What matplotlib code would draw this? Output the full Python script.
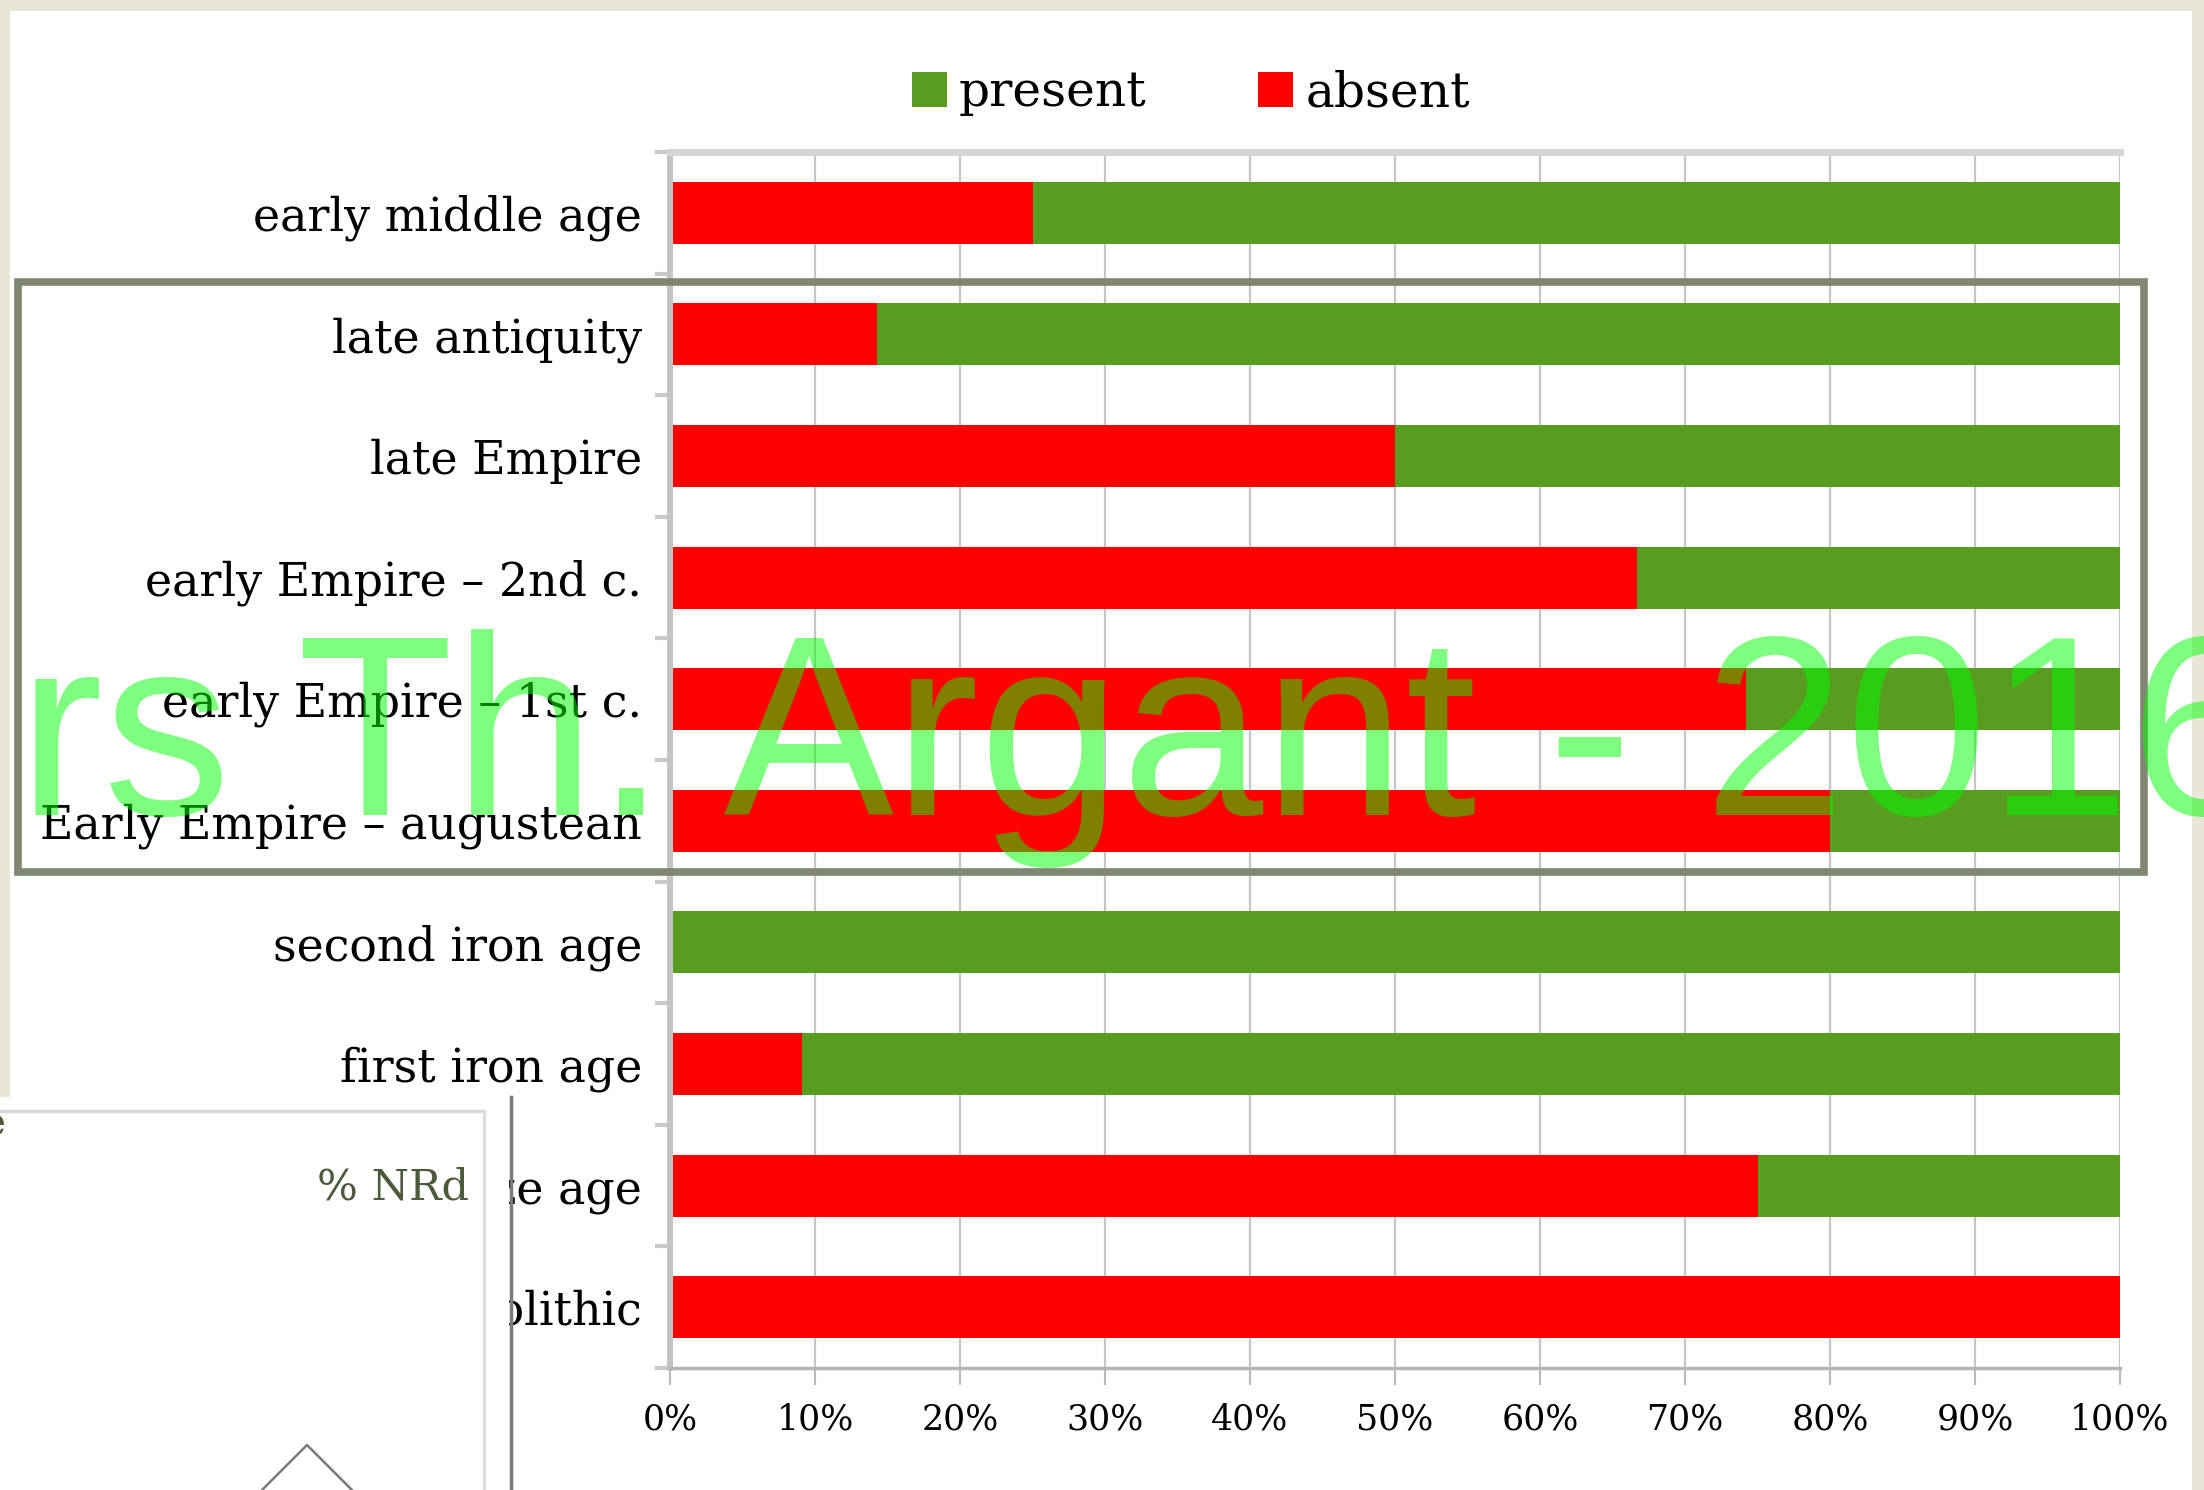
import matplotlib
matplotlib.use('Agg')
import matplotlib.pyplot as plt
from matplotlib.patches import Rectangle, Patch
from matplotlib.lines import Line2D
import numpy as np

# ---- data ----
categories = ["early middle age", "late antiquity", "late Empire",
              "early Empire – 2nd c.", "early Empire – 1st c.",
              "Early Empire – augustean", "second iron age",
              "first iron age", "bronze age", "neolithic"]
absent = [0.25, 0.143, 0.50, 0.667, 0.742, 0.80, 0.0, 0.091, 0.75, 1.0]
present = [0.75, 0.857, 0.50, 0.333, 0.258, 0.20, 1.0, 0.909, 0.25, 0.0]
xtick_values = [0.0, 0.1, 0.2, 0.3, 0.4, 0.5, 0.6, 0.7, 0.8, 0.9, 1.0]
xtick_labels = ["0%", "10%", "20%", "30%", "40%", "50%", "60%", "70%", "80%", "90%", "100%"]
legend_labels = ["present", "absent"]
watermark = "rs Th. Argant - 2016"
panel_label = "% NRd"

RED = '#ff0000'
GREEN = '#589d1f'
SERIF = 'DejaVu Serif'

W, H = 2204, 1490
def fx(x): return x / W
def fy(y): return 1 - y / H

fig = plt.figure(figsize=(W / 100, H / 100), dpi=100)
fig.patch.set_facecolor('#e8e5d9')

# white card
fig.patches.append(Rectangle((fx(10), 0), (2192 - 10) / W, (H - 11) / H,
                             transform=fig.transFigure, facecolor='white',
                             edgecolor='none', zorder=-2))

ax = fig.add_axes([fx(670), fy(1368), (2120 - 670) / W, (1368 - 152) / H])
ax.set_facecolor('white')
n = len(categories)
y = np.arange(n)
ax.barh(y, absent, height=0.51, color=RED, zorder=2)
ax.barh(y, present, left=absent, height=0.51, color=GREEN, zorder=2)
ax.set_xlim(0, 1)
ax.set_ylim(n - 0.5, -0.5)

ax.set_axisbelow(True)
ax.xaxis.grid(True, color='#c6c6c6', lw=1.6)

ax.spines['right'].set_visible(False)
ax.spines['left'].set_color('#c4c4c4')
ax.spines['left'].set_linewidth(4.3)
ax.spines['top'].set_color('#d6d6d6')
ax.spines['top'].set_linewidth(5)
ax.spines['bottom'].set_color('#b5b5b5')
ax.spines['bottom'].set_linewidth(2.5)

ax.set_yticks(y)
ax.set_yticklabels(categories, fontsize=33, family=SERIF)
ax.set_yticks(np.arange(-0.5, n, 1), minor=True)
ax.tick_params(axis='y', which='major', length=0, pad=20)
ax.tick_params(axis='y', which='minor', length=11, width=3, color='#c8c8c8', direction='out')

ax.set_xticks(xtick_values)
ax.set_xticklabels(xtick_labels, fontsize=25, family=SERIF)
ax.tick_params(axis='x', which='major', length=12, width=1.5, color='#bbbbbb', pad=13)

# legend
handles = [Patch(facecolor=GREEN), Patch(facecolor=RED)]
fig.legend(handles, legend_labels, ncol=2, loc='center',
           bbox_to_anchor=(fx(1191), fy(93)), frameon=False,
           prop=dict(family=SERIF, size=35), handlelength=0.72, handleheight=0.72,
           handletextpad=0.25, columnspacing=2.3)

# grey hand-drawn style frame
fig.patches.append(Rectangle((fx(18), fy(872)), (2144 - 18) / W, (872 - 282) / H,
                             transform=fig.transFigure, fill=False,
                             edgecolor='#7f8771', lw=5.5, zorder=3))

# overlay panel bottom-left
fig.patches.append(Rectangle((0, 0), fx(509), fy(1097), transform=fig.transFigure,
                             facecolor='white', edgecolor='none', zorder=5))
fig.lines.append(Line2D([0, fx(484)], [fy(1111), fy(1111)], transform=fig.transFigure,
                        color='#d9d9d9', lw=2.5, zorder=6))
fig.lines.append(Line2D([fx(484), fx(484)], [fy(1111), 0], transform=fig.transFigure,
                        color='#dddddd', lw=2.5, zorder=6))
fig.lines.append(Line2D([fx(511), fx(511)], [fy(1097), 0], transform=fig.transFigure,
                        color='#7b7b7b', lw=2.5, zorder=6))
fig.lines.append(Line2D([fx(262), fx(307), fx(352)], [fy(1490), fy(1445), fy(1490)],
                        transform=fig.transFigure, color='#7a7a7a', lw=1.8, zorder=6))
fig.text(fx(469), fy(1200), panel_label, ha='right', va='baseline', fontsize=31,
         family=SERIF, color='#4b5a3b', zorder=7)
fig.text(fx(5), fy(1135), "e", ha='right', va='baseline', fontsize=28,
         family=SERIF, color='#4b5a3b', zorder=7)

# watermark
fig.text(fx(18), fy(815), watermark, ha='left', va='baseline', fontsize=184,
         family='Liberation Sans', color=(0, 1, 0, 0.5), zorder=10)

fig.savefig('out.png', dpi=100, facecolor=fig.get_facecolor())
